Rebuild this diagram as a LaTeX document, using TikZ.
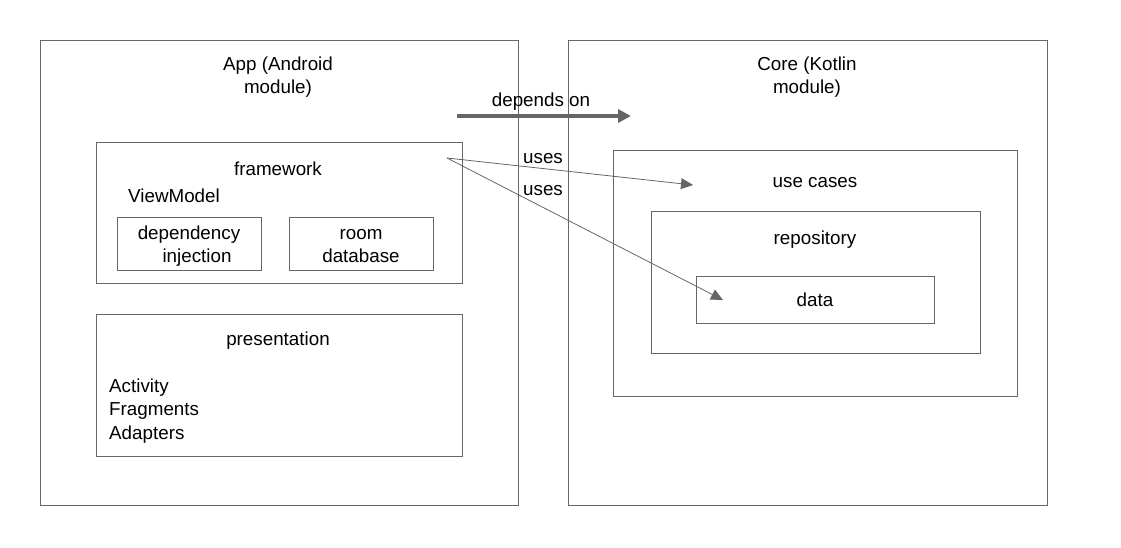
\documentclass[tikz,border=0pt]{standalone}
\usepackage{fontspec}
\setmainfont{Liberation Sans}
\usetikzlibrary{arrows.meta, positioning}
\definecolor{linegray}{HTML}{666666}

\begin{document}
\begin{tikzpicture}[x=1pt, y=-1pt, >={Triangle[length=12pt, width=11pt]},
    box/.style={draw=linegray, line width=1pt, inner sep=0pt},
    lbl/.style={font=\fontsize{18.8}{23.5}\selectfont, align=center, inner sep=0pt}]
        \useasboundingbox (0,0) rectangle (1121,547);
        % modules
        \node (app) [box, minimum width=478pt, minimum height=465pt] at (279,272.5) {};
        \node (core) [box, minimum width=479pt, minimum height=465pt] at (807.5,272.5) {};
        \node (apptitle) [lbl] at (278,77) {App (Android\\module)};
        \node (coretitle) [lbl] at (807,77) {Core (Kotlin\\module)};
        % app layers
        \node (fwk) [box, minimum width=366pt, minimum height=141pt] at (279,212.5) {};
        \node (fwktitle) [lbl] at (278,168.5) {framework};
        \node (vm) [lbl, anchor=west] at (128,195.5) {ViewModel};
        \node (di) [box, minimum width=144pt, minimum height=53pt] at (189,243.5) {};
        \node (ditext) [lbl] at ([yshift=-2.5pt]di.center) {dependency\\\hspace*{16pt}injection};
        \node (room) [box, minimum width=144pt, minimum height=53pt] at (361,243.5) {};
        \node (roomtext) [lbl] at ([yshift=-2.5pt]room.center) {room\\database};
        \node (pres) [box, minimum width=366pt, minimum height=142pt] at (279,385) {};
        \node (prestitle) [lbl] at (278,341) {presentation};
        \node (ui) [lbl, anchor=north west, align=left] at (109,378.5) {Activity\\Fragments\\Adapters};
        % core layers
        \node (uc) [box, minimum width=404pt, minimum height=246pt] at (815,273) {};
        \node (uctitle) [lbl] at (815,182.5) {use cases};
        \node (repo) [box, minimum width=329pt, minimum height=142pt] at (815.5,282) {};
        \node (repotitle) [lbl] at (815,239.5) {repository};
        \node (data) [box, minimum width=238pt, minimum height=47pt, lbl] at (815,299.5) {data};
        % connectors
        \coordinate (src) at (447,158);
        \coordinate (ucend) at (693,185);
        \coordinate (dataend) at (723,300);
        \coordinate (depA) at (457,116);
        \coordinate (depB) at (631,116);
        \draw [->, linegray, line width=4pt, >={Triangle[length=13pt, width=13pt]}] (depA) -- (depB);
        \draw [->, linegray, line width=0.8pt] (src) -- (ucend);
        \draw [->, linegray, line width=0.8pt] (src) -- (dataend);
        \node (deplbl) [lbl] at (541,101.5) {depends on};
        \node (uses1) [lbl] at (543,158.5) {uses};
        \node (uses2) [lbl] at (543,190.5) {uses};
    \end{tikzpicture}
\end{document}
